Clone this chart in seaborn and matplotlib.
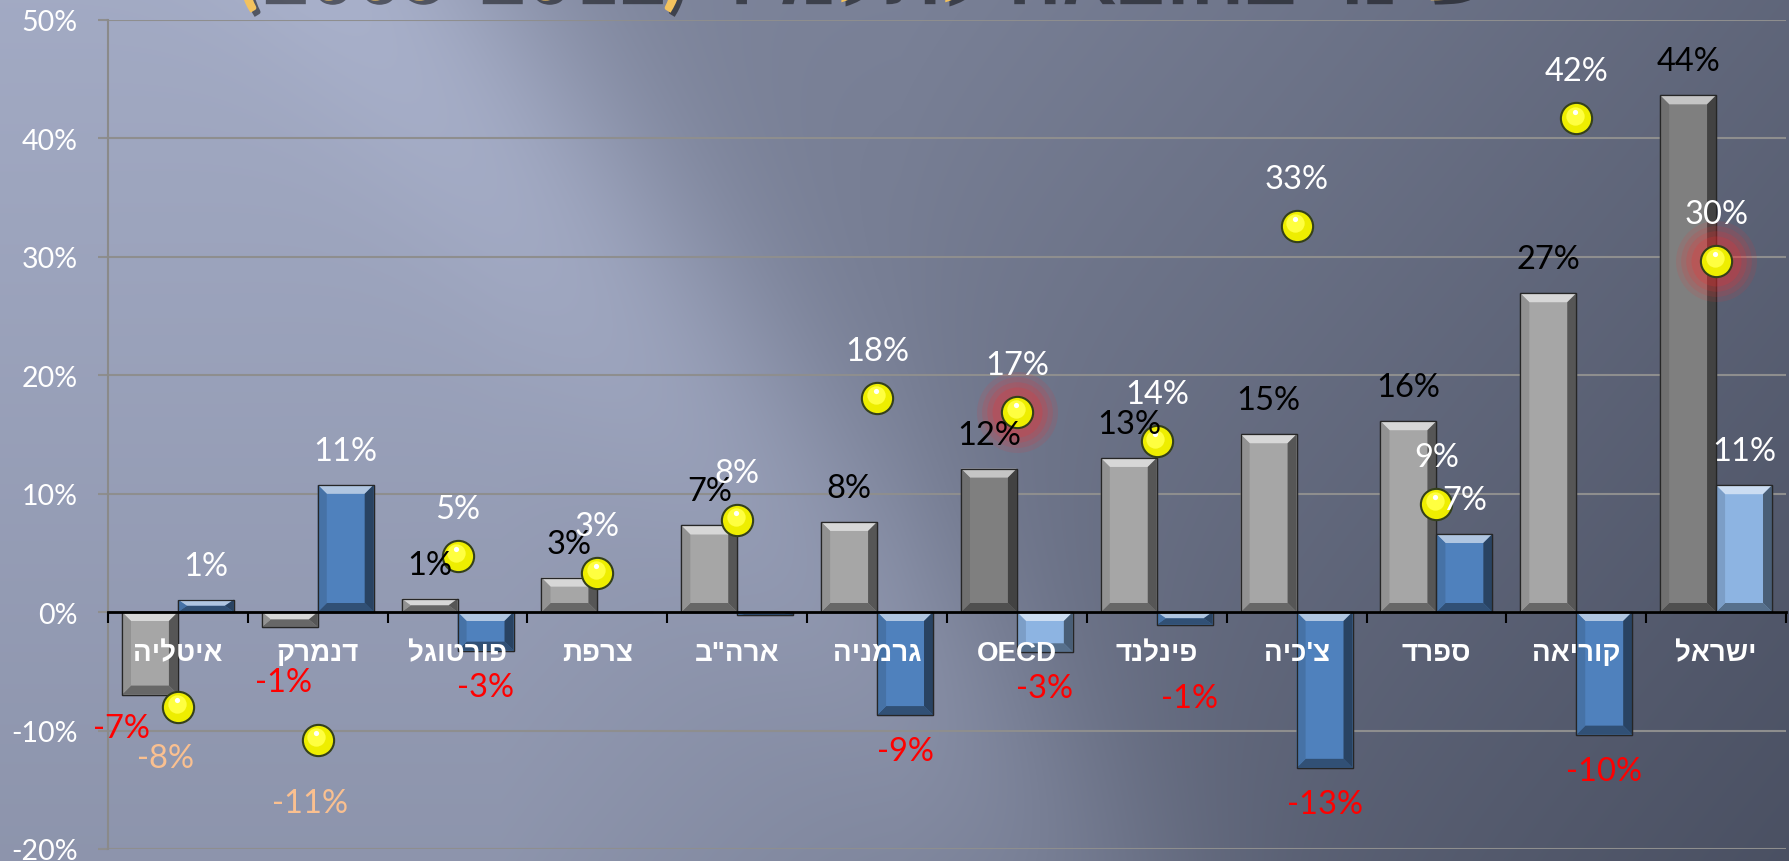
import numpy as np
import pandas as pd
import matplotlib
matplotlib.use("Agg")
import matplotlib.pyplot as plt
import seaborn as sns
from matplotlib.patches import Polygon
from matplotlib import colors as mcolors
from matplotlib import font_manager
import matplotlib.patheffects as pe
from matplotlib.transforms import offset_copy

# ---------------- data ----------------
countries = ['איטליה', 'דנמרק', 'פורטוגל', 'צרפת', 'ארה"ב', 'גרמניה', 'OECD',
             'פינלנד', "צ'כיה", 'ספרד', 'קוריאה', 'ישראל']
series_names = ['סדרה 1', 'סדרה 2']
gray_vals = [-6.97, -1.26, 1.12, 2.9, 7.3, 7.6, 12.1, 13.0, 15.0, 16.1, 26.9, 43.6]
blue_vals = [1.04, 10.73, -3.26, 0.0, -0.28, -8.7, -3.4, -1.07, -13.15, 6.58, -10.35, 10.7]
sphere_vals = [-8.0, -10.8, 4.75, 3.3, 7.8, 18.1, 16.9, 14.4, 32.6, 9.1, 41.65, 29.6]
y_ticks = [-20, -10, 0, 10, 20, 30, 40, 50]
highlight = ['OECD', 'ישראל']
title_text = 'שינוי בהוצאה לתלמיד'
title_years = '(2005-2012)'

# ---------------- style ----------------
sns.set_theme(style="white")
names = {f.name for f in font_manager.fontManager.ttflist}
NUM_FONT = ['Lato', 'DejaVu Sans'] if 'Lato' in names else ['DejaVu Sans']
HEB_FONT = ['Liberation Sans', 'DejaVu Sans']
plt.rcParams['font.family'] = NUM_FONT

GRAY, GRAY_DARK = '#a6a6a6', '#7f7f7f'
BLUE, BLUE_LIGHT = '#4f81bd', '#8db4e2'
W, H = 1789, 862
PX = 1 / 1.389


def visual(s):
    if any('\u0590' <= ch <= '\u05ff' for ch in s):
        return s[::-1]
    return s


def shade(c, f):
    r = np.array(mcolors.to_rgb(c))
    if f >= 0:
        r = r + (1 - r) * f
    else:
        r = r * (1 + f)
    return tuple(np.clip(r, 0, 1))


fig = plt.figure(figsize=(W / 100, H / 100), dpi=100)

# background gradient
yy, xx = np.mgrid[0:H, 0:W].astype(float)
s = ((xx - 520) * 1.3 - yy) / np.hypot(1.3, 1.0)
sig = 1 / (1 + np.exp(-s / 60))
v = (0.06 + 0.22 * (yy / H) + 0.42 * sig
     + 0.28 * np.clip((xx - 900) / 900, 0, 1)
     + 0.30 * np.clip((xx - 500) / 800, 0, 1) * (yy / H) * (1 - sig)
     - 0.10 * np.exp(-((s + 120) / 110) ** 2) * (1 - 0.5 * yy / H))
v = np.clip(v, 0, 1)[..., None]
light = np.array([168, 176, 202]) / 255
dark = np.array([72, 78, 96]) / 255
bg = light * (1 - v) + dark * v
bg_ax = fig.add_axes([0, 0, 1, 1], zorder=-5)
bg_ax.imshow(bg, aspect='auto', extent=[0, 1, 0, 1])
bg_ax.axis('off')

ax = fig.add_axes([108 / W, 12 / H, (1786 - 108) / W, (850 - 20.5) / H])
ax.patch.set_alpha(0)

df = pd.DataFrame({
    'country': countries * 2,
    'series': [series_names[0]] * len(countries) + [series_names[1]] * len(countries),
    'value': gray_vals + blue_vals,
})
sns.barplot(data=df, x='country', y='value', hue='series', order=countries,
            hue_order=series_names, palette=[GRAY, BLUE], width=0.8,
            saturation=1, errorbar=None, legend=False, ax=ax, zorder=3)
ax.set_xlim(-0.5, len(countries) - 0.5)
ax.set_ylim(y_ticks[0], y_ticks[-1])

# pixel -> data conversion
pos = ax.get_position()
ax_w_px, ax_h_px = pos.width * W, pos.height * H
dx_px = (len(countries)) / ax_w_px
dy_px = (y_ticks[-1] - y_ticks[0]) / ax_h_px
BEV = 9

for si, cont in enumerate(ax.containers[:2]):
    for i, bar in enumerate(cont):
        if si == 0:
            c = GRAY_DARK if countries[i] in highlight else GRAY
        else:
            c = BLUE_LIGHT if countries[i] in highlight else BLUE
        bar.set_facecolor(c)
        bar.set_edgecolor('#262626')
        bar.set_linewidth(0.9)
        x0, w = bar.get_x(), bar.get_width()
        y0, h = bar.get_y(), bar.get_height()
        yb, yt = min(y0, y0 + h), max(y0, y0 + h)
        x1 = x0 + w
        if yt - yb <= 0:
            continue
        bx = min(BEV * dx_px, w / 2)
        by = min(BEV * dy_px, (yt - yb) / 2)
        faces = [
            ([(x0, yt), (x1, yt), (x1 - bx, yt - by), (x0 + bx, yt - by)], shade(c, 0.55)),
            ([(x0, yb), (x1, yb), (x1 - bx, yb + by), (x0 + bx, yb + by)], shade(c, -0.38)),
            ([(x0, yb), (x0, yt), (x0 + bx, yt - by), (x0 + bx, yb + by)], shade(c, -0.12)),
            ([(x1, yb), (x1, yt), (x1 - bx, yt - by), (x1 - bx, yb + by)], shade(c, -0.48)),
        ]
        for pts, fc in faces:
            ax.add_patch(Polygon(pts, closed=True, facecolor=fc, edgecolor='none', zorder=3.5))
        ax.add_patch(plt.Rectangle((x0, yb), w, yt - yb, facecolor='none',
                                   edgecolor='#262626', lw=0.9, zorder=3.6))

# spheres
n_before = len(ax.collections)
sns.stripplot(x=countries, y=sphere_vals, order=countries, jitter=False, size=22.5,
              color='#eeee00', edgecolor='#34401a', linewidth=1.5, ax=ax, zorder=6)
pts = np.concatenate([np.asarray(c.get_offsets()) for c in ax.collections[n_before:]
                      if len(c.get_offsets())])
offs = np.zeros((len(countries), 2))
for px_, py_ in pts:
    offs[int(round(px_))] = (px_, py_)

for i, c in enumerate(countries):
    if c in highlight:
        for sz, al in [(3400, 0.10), (2600, 0.12), (1900, 0.15), (1300, 0.18)]:
            ax.scatter([offs[i, 0]], [offs[i, 1]], s=sz, color='#ff2a2a', alpha=al,
                       linewidths=0, zorder=5)
ax.scatter(offs[:, 0], offs[:, 1], s=175, color='#ffff40', linewidths=0, zorder=6.5,
           transform=offset_copy(ax.transData, fig=fig, x=-1, y=2, units='points'))
ax.scatter(offs[:, 0], offs[:, 1], s=14, color='white', linewidths=0, zorder=6.6,
           transform=offset_copy(ax.transData, fig=fig, x=-1, y=5, units='points'))

# value labels
label_kw = dict(ha='center', va='center', fontsize=23.5, family=NUM_FONT, zorder=9,
                textcoords='offset points')
special = {
    (0, 0): (-29, -33), (1, 0): (-6, -55), (7, 1): (5, -73),
    (0, 2): (-12, -51), (1, 2): (-8, -63),
}


def fmt(v):
    return f"{int(round(v))}%"


for si, vals in enumerate([gray_vals, blue_vals, sphere_vals]):
    for i, val in enumerate(vals):
        if abs(val) < 0.5:
            continue
        if si < 2:
            bar = ax.containers[si][i]
            x = bar.get_x() + bar.get_width() / 2
            dy = 34 if val > 0 else -36
            if val > 0:
                col = 'black' if si == 0 else 'white'
            else:
                col = '#ff0000'
        else:
            x = offs[i, 0]
            dy = 47 if val > 0 else -48
            col = 'white' if val > 0 else '#fac090'
        dxp, dyp = special.get((i, si), (0, dy))
        ax.annotate(fmt(val), xy=(x, val), xytext=(dxp * PX, dyp * PX), color=col, **label_kw)

# category labels (drawn above the bars, as in the original)
for i, c in enumerate(countries):
    ax.annotate(visual(c), xy=(i, 0), xytext=(0, -41 * PX), textcoords='offset points',
                ha='center', va='center', fontsize=20, fontweight='bold', color='white',
                family=HEB_FONT, zorder=9)

# axes styling
ax.set_xlabel('')
ax.set_ylabel('')
ax.set_yticks(y_ticks)
ax.set_yticklabels([f"{t}%" for t in y_ticks])
ax.yaxis.grid(True, color='#8e8e8e', lw=1.5)
ax.set_axisbelow(True)
ax.xaxis.set_zorder(9)
ax.tick_params(axis='y', length=7, width=1.5, color='#8e8e8e', pad=15,
               labelsize=20.5, labelcolor='white', left=True)
ax.set_xticks(range(len(countries)))
ax.set_xticklabels([])
ax.set_xticks(np.arange(-0.5, len(countries), 1.0), minor=True)
ax.tick_params(axis='x', which='major', length=0)
ax.tick_params(axis='x', which='minor', length=8, width=1.5, color='black', direction='out',
               bottom=True)
for sp in ['top', 'right']:
    ax.spines[sp].set_visible(False)
ax.spines['left'].set_color('#8a8a8a')
ax.spines['left'].set_linewidth(1.5)
ax.spines['bottom'].set_position(('data', 0))
ax.spines['bottom'].set_color('black')
ax.spines['bottom'].set_linewidth(2)
ax.spines['bottom'].set_zorder(8)

# title (top mostly cut off, as in the original slide)
fig.text(860 / W, 1 - 1 / H, title_years + ' ' + visual(title_text), ha='center', va='baseline',
         fontsize=58, color='#f3c25e', fontweight='bold', family=['Lato', 'Liberation Sans', 'DejaVu Sans'],
         path_effects=[pe.SimplePatchShadow(offset=(3, -3), shadow_rgbFace='black', alpha=0.5),
                       pe.Normal()])

fig.savefig('out.png', dpi=100)
